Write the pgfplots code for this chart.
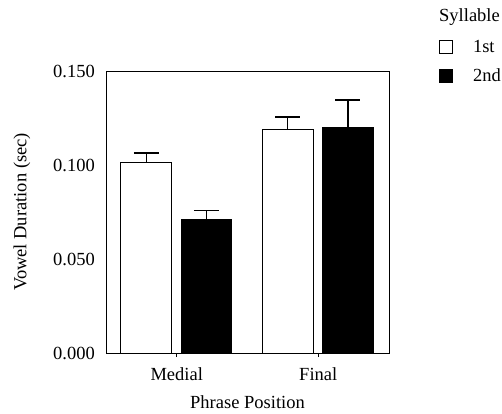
\documentclass[border=0pt]{standalone}
\usepackage{fontspec}
\setmainfont{Liberation Serif}
\usepackage{pgfplots}
\pgfplotsset{compat=1.18}
\begin{document}
\begin{tikzpicture}[font=\fontsize{18.5}{21}\selectfont]
\useasboundingbox (-106pt,-60pt) rectangle (396pt,353pt);
\begin{axis}[
  at={(0pt,0pt)}, anchor=south west,
  scale only axis, width=283pt, height=282pt,
  clip=false,
  ybar, bar width=0.358,
  xmin=-0.5, xmax=1.5, ymin=0, ymax=0.15,
  xtick={0,1}, xticklabels={Medial,Final},
  ytick={0,0.05,0.1,0.15},
  scaled y ticks=false,
  yticklabel style={/pgf/number format/fixed, /pgf/number format/fixed zerofill, /pgf/number format/precision=3, inner xsep=0pt, xshift=-7pt},
  /pgf/number format/assume math mode=true,
  tick align=outside,
  xtick pos=bottom, ytick pos=left,
  major tick length=4pt,
  ytick style={draw=none},
  xtick style={line width=1.2pt, black},
  axis line style={line width=0.9pt},
  xticklabel style={anchor=north, inner ysep=0pt, yshift=-10pt},
  xlabel={Phrase Position}, ylabel={Vowel Duration (sec)},
  xlabel style={at={(axis description cs:0.5,-0.174)}, anchor=center},
  ylabel style={at={(axis description cs:-0.297,0.5)}, anchor=center},
  legend style={at={(rel axis cs:1.1767,1.11)}, anchor=north west, draw=none, fill=none, inner sep=0pt, row sep=15pt, column sep=20pt, nodes={inner sep=0pt}},
  legend cell align=left,
  error bars/y dir=plus, error bars/y explicit,
  error bars/error mark=|,
  error bars/error bar style={line width=1.2pt, black},
  error bars/error mark options={line width=1.2pt, black, mark size=12.5pt},
]
\addplot[bar shift=-0.215, fill=white, draw=black, line width=1pt,
  legend image code/.code={\draw[fill=white, draw=black, line width=0.8pt] (0pt,-6.5pt) rectangle (13pt,6.5pt);}]
  coordinates {(0,0.1014) +- (0,0.0050) (1,0.1191) +- (0,0.0064)};
\addlegendentry{1st}
\addplot[bar shift=0.21, fill=black, draw=black, line width=1pt,
  legend image code/.code={\draw[fill=black, draw=black, line width=0.8pt] (0pt,-6.5pt) rectangle (13pt,6.5pt);}]
  coordinates {(0,0.0711) +- (0,0.0046) (1,0.1200) +- (0,0.0146)};
\addlegendentry{2nd}
\node[anchor=base west, inner sep=0pt] at (rel axis cs:1.1767,1.174) {Syllable};
\end{axis}
\end{tikzpicture}
\end{document}
